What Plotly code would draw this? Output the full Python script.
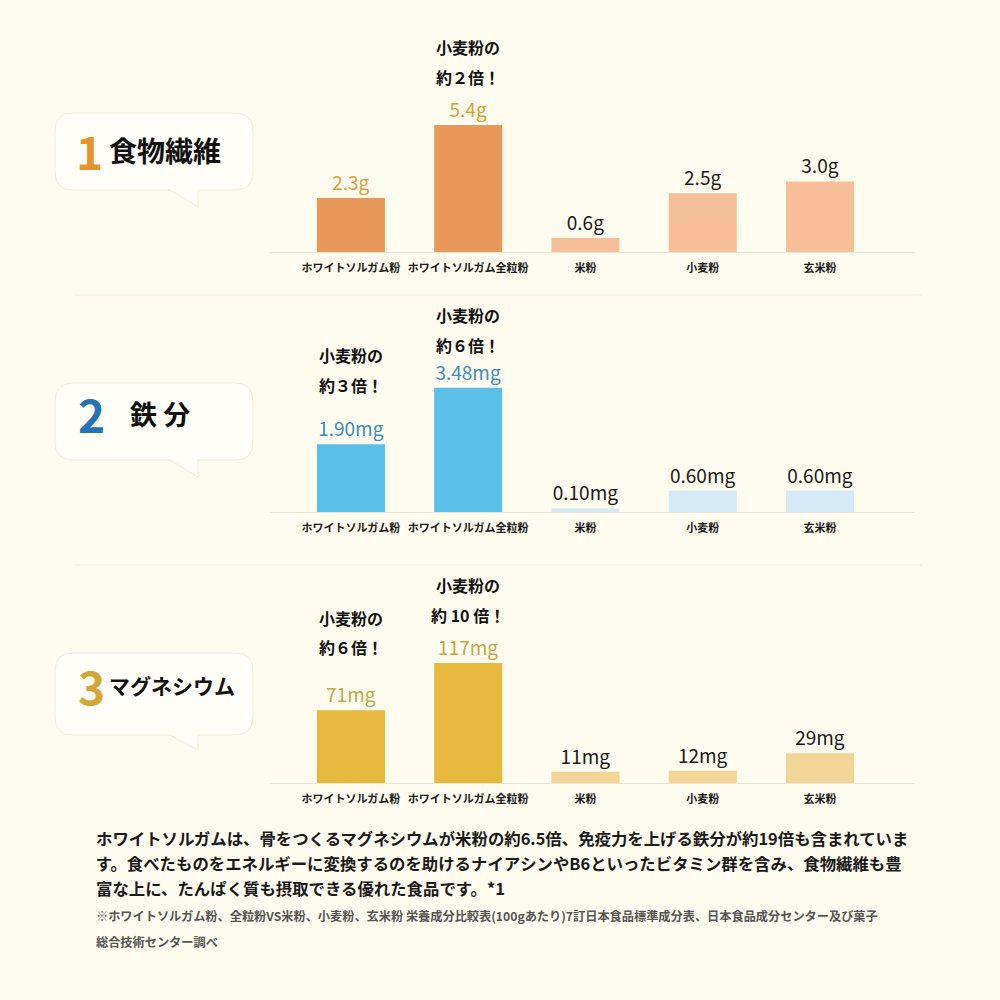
import plotly.graph_objects as go

categories = ["ホワイトソルガム粉", "ホワイトソルガム全粒粉", "米粉", "小麦粉", "玄米粉"]

fiber_values = [2.3, 5.4, 0.6, 2.5, 3.0]
fiber_labels = ["2.3g", "5.4g", "0.6g", "2.5g", "3.0g"]

iron_values = [1.90, 3.48, 0.10, 0.60, 0.60]
iron_labels = ["1.90mg", "3.48mg", "0.10mg", "0.60mg", "0.60mg"]

mg_values = [71, 117, 11, 12, 29]
mg_labels = ["71mg", "117mg", "11mg", "12mg", "29mg"]

panel_titles = ["食物繊維", "鉄 分", "マグネシウム"]
panel_numbers = ["1", "2", "3"]

# callouts: (panel index, category index, line1, line2)
callouts = [
    (0, 1, "小麦粉の", "約２倍！"),
    (1, 0, "小麦粉の", "約３倍！"),
    (1, 1, "小麦粉の", "約６倍！"),
    (2, 0, "小麦粉の", "約６倍！"),
    (2, 1, "小麦粉の", "約 10 倍！"),
]

body_lines = [
    "ホワイトソルガムは、骨をつくるマグネシウムが米粉の約6.5倍、免疫力を上げる鉄分が約19倍も含まれていま",
    "す。食べたものをエネルギーに変換するのを助けるナイアシンやB6といったビタミン群を含み、食物繊維も豊",
    "富な上に、たんぱく質も摂取できる優れた食品です。*1",
]
note_lines = [
    "※ホワイトソルガム粉、全粒粉VS米粉、小麦粉、玄米粉 栄養成分比較表(100gあたり)7訂日本食品標準成分表、日本食品成分センター及び菓子",
    "総合技術センター調べ",
]

FONT = "Noto Sans CJK JP"
BG = "#FEFCEF"

panels = [
    dict(values=fiber_values, labels=fiber_labels, yr=8.5, base=252,
         hi="#E8995A", lo="#F6BF99", hitext="#E39A35", num="#E8932B",
         title_x=107, title_size=28, num_size=46, num_x=89, cy=150,
         box=(113, 190, 207)),
    dict(values=iron_values, labels=iron_labels, yr=5.6, base=512,
         hi="#5BC0E8", lo="#D5EAF6", hitext="#3A8CC6", num="#2672B6",
         title_x=128, title_size=27, num_size=46, num_x=91, cy=413,
         box=(383, 460, 477)),
    dict(values=mg_values, labels=mg_labels, yr=195, base=783,
         hi="#E7B93E", lo="#F1D697", hitext="#C9A548", num="#D2A735",
         title_x=107, title_size=21, num_size=46, num_x=91, cy=685,
         box=(653, 735, 750)),
]


def px(x):
    return x / 1000.0


def py(y):
    return 1 - y / 1000.0


fig = go.Figure()
layout_axes = {}
annotations = []
shapes = []

for i, p in enumerate(panels):
    n = "" if i == 0 else str(i + 1)
    colors = [p["hi"], p["hi"], p["lo"], p["lo"], p["lo"]]
    tcolors = [p["hitext"], p["hitext"], "#1a1a1a", "#1a1a1a", "#1a1a1a"]
    fig.add_trace(go.Bar(
        x=categories, y=p["values"], text=p["labels"], textposition="outside",
        textfont=dict(family=FONT, size=19, color=tcolors),
        marker=dict(color=colors, line=dict(width=0)),
        cliponaxis=False, xaxis="x" + n, yaxis="y" + n, showlegend=False,
        hoverinfo="skip",
    ))
    layout_axes["xaxis" + n] = dict(
        domain=[0.27, 0.915], anchor="y" + n, range=[-0.69, 4.81],
        showline=True, linecolor="#EDE6D2", linewidth=1, showgrid=False,
        ticks="outside", ticklen=6, tickcolor="rgba(0,0,0,0)",
        tickfont=dict(family=FONT, size=11, color="#1a1a1a", weight="bold"),
        zeroline=False, fixedrange=True,
    )
    layout_axes["yaxis" + n] = dict(
        domain=[py(p["base"]), py(p["base"] - 200)], anchor="x" + n,
        range=[0, p["yr"]], visible=False, fixedrange=True,
    )

    # speech bubble
    top, bot, tip = p["box"]
    x0, x1, r = 55, 253, 18
    tl, tr = 170, 198
    pts = (
        f"M {px(x0 + r)},{py(top)} L {px(x1 - r)},{py(top)} "
        f"Q {px(x1)},{py(top)} {px(x1)},{py(top + r)} "
        f"L {px(x1)},{py(bot - r)} Q {px(x1)},{py(bot)} {px(x1 - r)},{py(bot)} "
        f"L {px(tr)},{py(bot)} L {px(tr)},{py(tip)} L {px(tl)},{py(bot)} "
        f"L {px(x0 + r)},{py(bot)} Q {px(x0)},{py(bot)} {px(x0)},{py(bot - r)} "
        f"L {px(x0)},{py(top + r)} Q {px(x0)},{py(top)} {px(x0 + r)},{py(top)} Z"
    )
    shapes.append(dict(type="path", xref="paper", yref="paper", path=pts,
                       fillcolor="#FFFEF8", line=dict(color="#F0EADA", width=1),
                       layer="below"))
    annotations.append(dict(
        x=px(p["num_x"]), y=py(p["cy"]), xref="paper", yref="paper",
        text=panel_numbers[i], showarrow=False, xanchor="center", yanchor="middle",
        font=dict(family=FONT, size=p["num_size"], color=p["num"], weight="bold"),
    ))
    annotations.append(dict(
        x=px(p["title_x"]), y=py(p["cy"]), xref="paper", yref="paper",
        text=panel_titles[i], showarrow=False, xanchor="left", yanchor="middle",
        font=dict(family=FONT, size=p["title_size"], color="#111", weight="bold"),
    ))

callout_y = {
    (0, 1): (47, 77),
    (1, 0): (355, 385),
    (1, 1): (315, 345),
    (2, 0): (618, 647),
    (2, 1): (585, 615),
}
for (pi, ci, l1, l2) in callouts:
    n = "" if pi == 0 else str(pi + 1)
    ya, yb = callout_y[(pi, ci)]
    for txt, yy in ((l1, ya), (l2, yb)):
        annotations.append(dict(
            x=categories[ci], y=py(yy), xref="x" + n, yref="paper", text=txt,
            showarrow=False, xanchor="center", yanchor="middle",
            font=dict(family=FONT, size=16, color="#111", weight="bold"),
        ))

# separators
for yy in (295, 565):
    shapes.append(dict(type="line", xref="paper", yref="paper",
                       x0=px(75), x1=px(922), y0=py(yy), y1=py(yy),
                       line=dict(color="#F2EAD6", width=1)))

for txt, yy in zip(body_lines, (838, 863, 888)):
    annotations.append(dict(
        x=px(94), y=py(yy), xref="paper", yref="paper", text=txt,
        showarrow=False, xanchor="left", yanchor="middle",
        font=dict(family=FONT, size=16.4, color="#1a1a1a", weight="bold"),
    ))
for txt, yy in zip(note_lines, (916, 942)):
    annotations.append(dict(
        x=px(94), y=py(yy), xref="paper", yref="paper", text=txt,
        showarrow=False, xanchor="left", yanchor="middle",
        font=dict(family=FONT, size=12.2, color="#555", weight="bold"),
    ))

fig.update_layout(
    width=1000, height=1000, margin=dict(l=0, r=0, t=0, b=0),
    paper_bgcolor=BG, plot_bgcolor="rgba(0,0,0,0)",
    bargap=0.42, annotations=annotations, shapes=shapes,
    font=dict(family=FONT),
    **layout_axes,
)

fig.write_html(
    "out.html",
    config={"displayModeBar": False, "staticPlot": True},
    post_script="document.body.style.margin='0';document.body.style.overflow='hidden';",
)
